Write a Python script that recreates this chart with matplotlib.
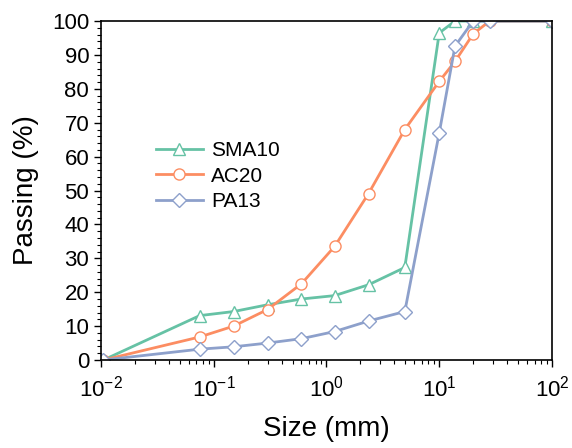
import numpy as np
import matplotlib
matplotlib.use('Agg')
import matplotlib.pyplot as plt
from matplotlib.ticker import MultipleLocator, LogLocator, NullFormatter

plt.rcParams['font.family'] = ['Liberation Sans', 'DejaVu Sans']
plt.rcParams['mathtext.fontset'] = 'custom'
plt.rcParams['mathtext.rm'] = 'Liberation Sans'
plt.rcParams['mathtext.it'] = 'Liberation Sans'
plt.rcParams['axes.unicode_minus'] = False

# sieve sizes (mm) and percent passing
sma10_size = [0.0105, 0.075, 0.15, 0.3, 0.6, 1.18, 2.36, 4.95, 10, 13.8, 20, 100]
sma10_pass = [0, 13.1, 14.3, 16.3, 18.0, 19.0, 22.2, 27.3, 96.5, 100, 100, 100]

ac20_size = [0.0105, 0.075, 0.15, 0.3, 0.6, 1.18, 2.36, 4.95, 10, 13.8, 20, 28, 100]
ac20_pass = [0, 6.8, 10.0, 14.9, 22.5, 33.5, 49.1, 68.0, 82.2, 88.1, 96.2, 100, 100]

pa13_size = [0.0105, 0.075, 0.15, 0.3, 0.6, 1.18, 2.36, 4.95, 10, 13.8, 20, 28, 100]
pa13_pass = [0, 3.2, 3.9, 5.0, 6.3, 8.4, 11.5, 14.3, 67.0, 92.6, 100, 100, 100]

colors = ['#66c2a5', '#fc8d62', '#8da0cb']

fig = plt.figure(figsize=(5.72, 4.48), dpi=100)
ax = fig.add_axes([0.1766, 0.1964, 0.7884, 0.7566])

ax.plot(sma10_size, sma10_pass, '-^', color=colors[0], lw=2.0, ms=9,
        mfc='white', mec=colors[0], mew=1.0, label='SMA10')
ax.plot(ac20_size, ac20_pass, '-o', color=colors[1], lw=2.0, ms=8,
        mfc='white', mec=colors[1], mew=1.0, label='AC20')
ax.plot(pa13_size, pa13_pass, '-D', color=colors[2], lw=2.0, ms=7,
        mfc='white', mec=colors[2], mew=1.0, label='PA13')

ax.set_xscale('log')
ax.set_xlim(1e-2, 1e2)
ax.set_ylim(0, 100)
ax.yaxis.set_major_locator(MultipleLocator(10))
ax.yaxis.set_minor_locator(MultipleLocator(2))
ax.xaxis.set_minor_locator(LogLocator(base=10, subs=np.arange(2, 10), numticks=20))
ax.xaxis.set_minor_formatter(NullFormatter())

ax.tick_params(which='both', direction='out', top=False, right=False, labelsize=16)
ax.tick_params(axis='x', which='major', pad=6)
ax.tick_params(which='major', length=5, width=1)
ax.tick_params(which='minor', length=3, width=0.8)
for s in ax.spines.values():
    s.set_linewidth(1.2)

ax.set_xlabel('Size (mm)', fontsize=20, labelpad=11)
ax.set_ylabel('Passing (%)', fontsize=20, labelpad=9)

ax.legend(loc='upper left', bbox_to_anchor=(0.08, 0.70), frameon=False,
          fontsize=15, handlelength=2.25, handletextpad=0.4, labelspacing=0.3)

fig.savefig('out.png', dpi=100)
